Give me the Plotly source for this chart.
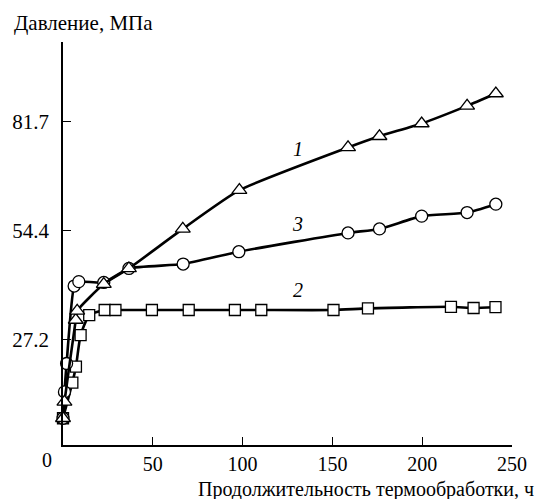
import plotly.graph_objects as go

# Series 1 (triangles)
x1 = [0, 0.8, 7.1, 7.9, 22.7, 36.7, 66.7, 98.2, 158.7, 176.2, 199.7, 225.0, 241.0]
y1 = [7.5, 11.6, 32.1, 34.4, 41.1, 45.0, 54.9, 64.6, 75.3, 78.1, 81.3, 85.7, 88.8]
# Series 2 (squares)
x2 = [0, 5.2, 7.2, 9.8, 14.6, 23.2, 29.2, 49.5, 70.0, 95.7, 110.4, 150.6, 169.8, 216.0, 228.6, 240.8]
y2 = [7.5, 16.4, 20.4, 28.3, 33.3, 34.6, 34.6, 34.6, 34.6, 34.6, 34.6, 34.6, 35.0, 35.4, 35.1, 35.3]
# Series 3 (circles)
x3 = [0, 0.8, 2.0, 6.2, 8.8, 22.7, 36.7, 66.9, 97.9, 158.7, 176.2, 199.7, 225.0, 241.0]
y3 = [7.5, 14.1, 21.2, 40.6, 41.7, 41.5, 45.0, 46.1, 49.2, 53.9, 54.9, 58.1, 59.0, 61.1]

y_ticks = [27.2, 54.4, 81.7]
x_ticks = [50, 100, 150, 200, 250]
curve_labels = [("1", 130.8, 75.0), ("3", 130.8, 56.1), ("2", 130.8, 39.6)]

FONT = "Times New Roman, Liberation Serif, serif"
FS = 20

fig = go.Figure()

def add_series(x, y, symbol, size):
    fig.add_trace(go.Scatter(
        x=x, y=y, mode="lines+markers",
        line=dict(color="black", width=2.6, shape="spline", smoothing=0.5),
        marker=dict(symbol=symbol, size=size, color="white",
                    line=dict(color="black", width=1.3)),
        showlegend=False, cliponaxis=False,
    ))

add_series(x2, y2, "square", 11)
add_series(x3, y3, "circle", 12)
add_series(x1, y1, "triangle-up", 13)

for txt, lx, ly in curve_labels:
    fig.add_annotation(x=lx, y=ly, text=f"<i>{txt}</i>", showarrow=False,
                       font=dict(family=FONT, size=FS, color="black"))

# origin label "0"
fig.add_annotation(x=0, y=0, xref="x", yref="paper", text="0", showarrow=False,
                   xshift=-16, yanchor="top", yshift=-2,
                   font=dict(family=FONT, size=FS, color="black"))

# axis titles
fig.add_annotation(xref="paper", yref="paper", x=0, y=1, xanchor="left", yanchor="bottom",
                   xshift=-51, yshift=5, text="Давление, МПа", showarrow=False,
                   font=dict(family=FONT, size=21, color="black"))
fig.add_annotation(xref="paper", yref="paper", x=1, y=0, xanchor="right", yanchor="top",
                   xshift=24, yshift=-31, text="Продолжительность термообработки, ч",
                   showarrow=False, font=dict(family=FONT, size=20, color="black"))

fig.update_layout(
    width=539, height=499,
    margin=dict(l=59, r=17, t=42, b=54),
    paper_bgcolor="white", plot_bgcolor="white",
    font=dict(family=FONT, size=FS, color="black"),
    xaxis=dict(range=[0, 250], tickvals=x_ticks, ticks="inside", ticklen=8,
               tickwidth=1.3, tickcolor="black", showline=True, linecolor="black",
               linewidth=1.5, showgrid=False, zeroline=False, ticklabelstandoff=0,
               tickfont=dict(family=FONT, size=FS, color="black")),
    yaxis=dict(range=[0.8, 101.7], tickvals=y_ticks, ticktext=[f"{v:.1f}" for v in y_ticks],
               ticks="inside", ticklen=8, tickwidth=1.3, tickcolor="black",
               showline=True, linecolor="black", linewidth=1.5, showgrid=False,
               zeroline=False, ticklabelstandoff=8,
               tickfont=dict(family=FONT, size=21, color="black")),
)

fig.write_html("out.html")
